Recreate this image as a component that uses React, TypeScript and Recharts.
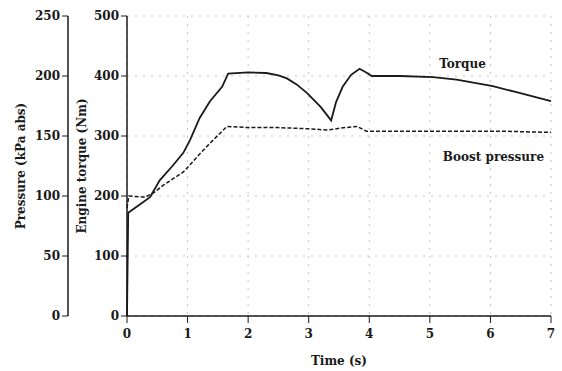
import { CartesianGrid, Line, LineChart, ReferenceDot, XAxis, YAxis } from "recharts";

const torqueTime = [0, 0.02, 0.2, 0.38, 0.54, 0.75, 0.93, 1.04, 1.2, 1.37, 1.57, 1.67, 2.0, 2.3, 2.5, 2.64, 2.8, 2.97, 3.2, 3.37, 3.45, 3.56, 3.7, 3.84, 3.95, 4.04, 4.5, 5.05, 5.44, 6.04, 6.43, 7.0];
const torqueNm = [0, 172, 185, 198, 226, 250, 272, 293, 330, 358, 382, 404, 406, 405, 401, 396, 386, 372, 348, 326, 356, 382, 402, 412, 406, 400, 400, 398, 394, 383, 373, 358];

const boostTime = [0, 0.03, 0.3, 0.45, 0.6, 0.93, 1.04, 1.2, 1.37, 1.65, 2.0, 2.5, 3.0, 3.3, 3.6, 3.8, 3.95, 4.5, 5.5, 6.2, 7.0];
const boostKpa = [90, 100, 99, 103, 109, 120, 126, 135, 144, 158, 157, 157, 156, 155, 157, 158, 154, 154, 154, 154, 153];

const timeTicks = [0, 1, 2, 3, 4, 5, 6, 7];
const torqueTicks = [0, 100, 200, 300, 400, 500];
const pressureTicks = [0, 50, 100, 150, 200, 250];

const torqueData = torqueTime.map((t, i) => ({ t, torque: torqueNm[i] }));
const boostData = boostTime.map((t, i) => ({ t, boost: boostKpa[i] }));

const font = "'DejaVu Serif', serif";
const ink = "#1a1a1a";
const tickStyle = { fontSize: 12, fontFamily: font, fontWeight: 700, fill: ink };
const axisLine = { stroke: ink, strokeWidth: 1.5 };

// ids: "axisA" = torque (inner), "axisB" = pressure (outer)
export default function App() {
  return (
    <div style={{ position: "absolute", left: 0, top: 0, width: 562, height: 371, background: "#fff" }}>
      <LineChart width={562} height={371} margin={{ top: 16, right: 11, bottom: 3, left: 0 }}>
        <CartesianGrid yAxisId="axisA" stroke="#c4c4c4" strokeDasharray="2 6" />
        <XAxis
          dataKey="t"
          type="number"
          domain={[0, 7]}
          ticks={timeTicks}
          allowDuplicatedCategory={false}
          height={52}
          stroke={ink}
          axisLine={axisLine}
          tick={tickStyle}
          tickSize={7}
          tickMargin={6}
          label={{ value: "Time (s)", position: "insideBottom", offset: 3, style: tickStyle }}
        />
        <YAxis
          yAxisId="axisB"
          width={68}
          domain={[0, 250]}
          ticks={pressureTicks}
          stroke={ink}
          axisLine={axisLine}
          tick={tickStyle}
          label={{ value: "Pressure (kPa abs)", angle: -90, position: "insideLeft", offset: 21, style: { ...tickStyle, textAnchor: "middle" } }}
        />
        <YAxis
          yAxisId="axisA"
          width={59}
          domain={[0, 500]}
          ticks={torqueTicks}
          stroke={ink}
          axisLine={axisLine}
          tick={tickStyle}
          label={{ value: "Engine torque (Nm)", angle: -90, position: "insideLeft", offset: 14, style: { ...tickStyle, textAnchor: "middle" } }}
        />
        <Line
          yAxisId="axisB"
          data={boostData}
          dataKey="boost"
          type="linear"
          stroke={ink}
          strokeWidth={1.5}
          strokeDasharray="4 2"
          dot={false}
          isAnimationActive={false}
        />
        <Line
          yAxisId="axisA"
          data={torqueData}
          dataKey="torque"
          type="linear"
          stroke={ink}
          strokeWidth={1.8}
          dot={false}
          isAnimationActive={false}
        />
        <ReferenceDot yAxisId="axisA" x={5.54} y={420} r={0} fill="none" stroke="none"
          label={{ value: "Torque", position: "center", style: tickStyle }} />
        <ReferenceDot yAxisId="axisA" x={6.05} y={265} r={0} fill="none" stroke="none"
          label={{ value: "Boost pressure", position: "center", style: tickStyle }} />
      </LineChart>
    </div>
  );
}
